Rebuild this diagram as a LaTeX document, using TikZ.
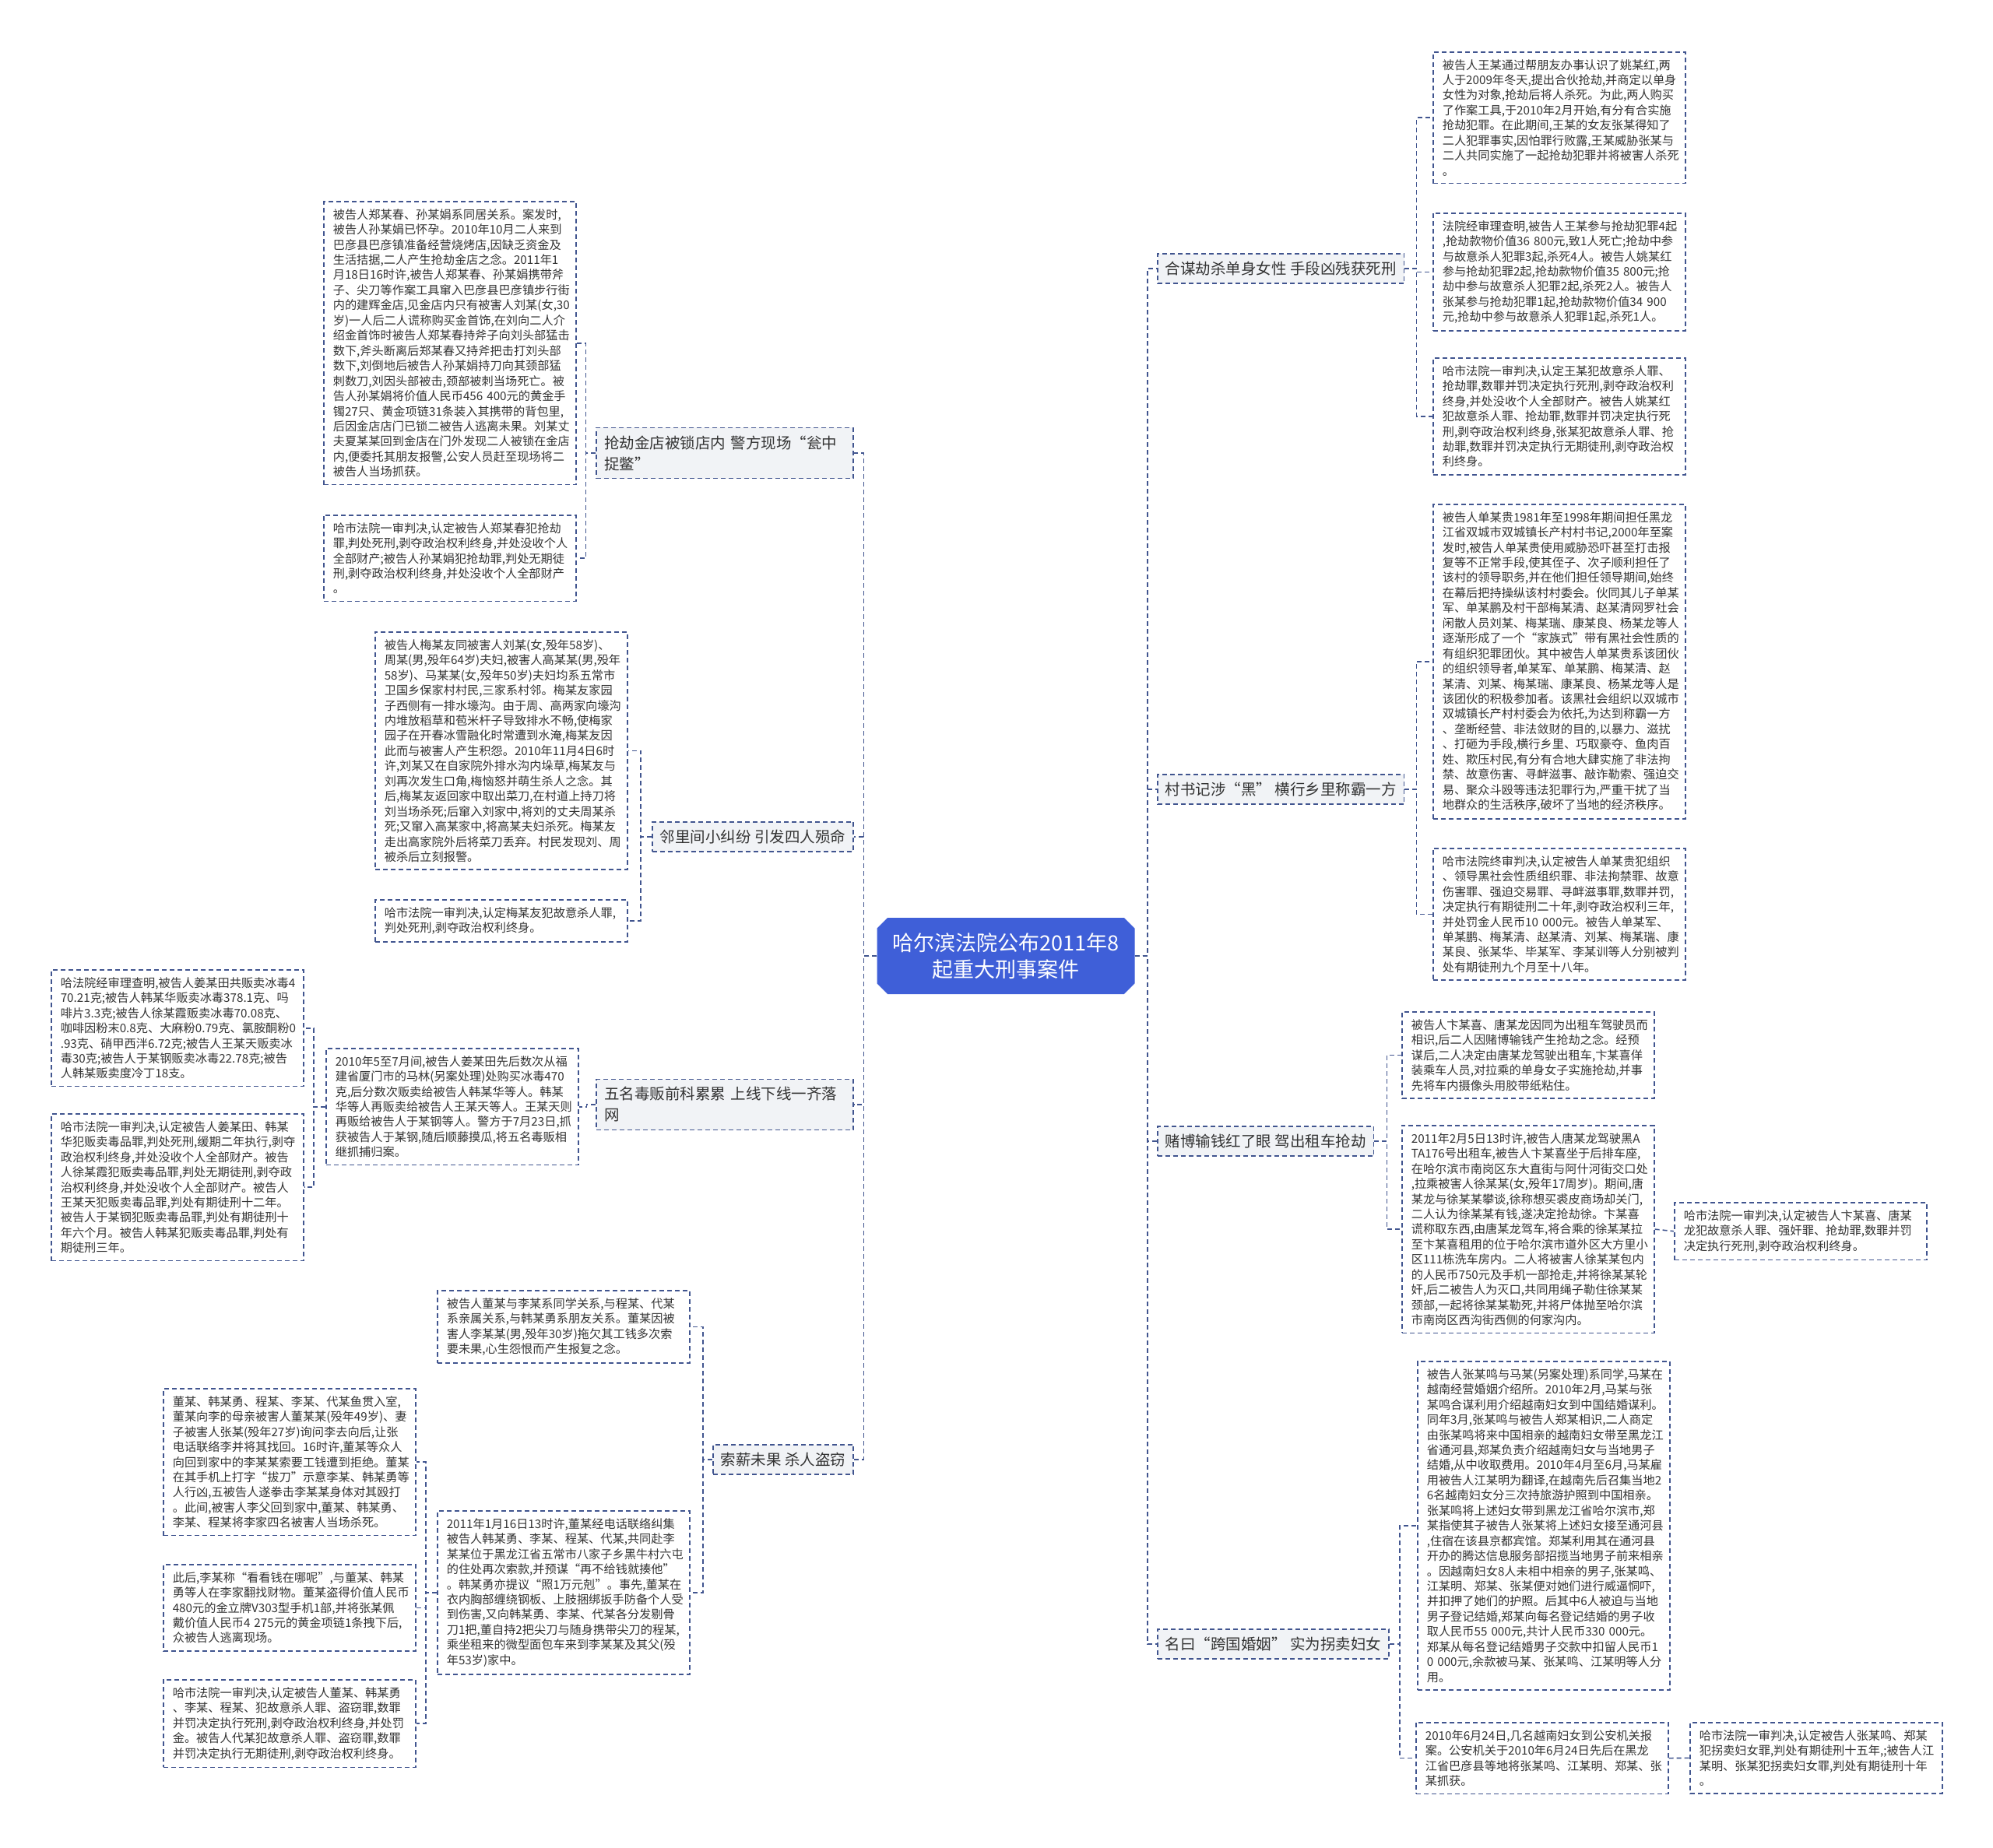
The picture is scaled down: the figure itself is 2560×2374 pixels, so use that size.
\documentclass[tikz,border=0pt]{standalone}
\usepackage{fontspec}
\setmainfont{Noto Sans CJK SC}
\usepackage{tikz}
\usetikzlibrary{shapes.misc}

\definecolor{linec}{HTML}{41558F}
\definecolor{topicc}{HTML}{3F5FD8}
\definecolor{labfill}{HTML}{F1F3F6}
\definecolor{txtc}{HTML}{333333}

\begin{document}
\begin{tikzpicture}[x=1pt,y=-1pt,
  link/.style={draw=linec,line width=1.6pt,dash pattern=on 6pt off 4pt},
  leaf/.style={link,anchor=north west,text width=300pt,inner xsep=12pt,inner ysep=9.5pt,
    align=left,text=txtc,font=\fontsize{15.2}{19.45}\selectfont},
  branch/.style={link,fill=labfill,inner xsep=10pt,inner ysep=10pt,align=left,
    text=txtc,font=\fontsize{19.5}{27}\selectfont},
  topic/.style={chamfered rectangle,chamfered rectangle xsep=10pt,fill=topicc,
    text=white,align=center,minimum width=331pt,minimum height=98pt,
    font=\fontsize{27}{34}\selectfont}]
  \fill[white] (0,0) rectangle (2560,2374);
  \useasboundingbox (0,0) rectangle (2560,2374);

  \node[topic] (ctr) at (1292,1228) {哈尔滨法院公布2011年8\\起重大刑事案件};

  % branches, right
  \node[branch,anchor=west] (jiesha) at (1486,345) {合谋劫杀单身女性 手段凶残获死刑};
  \node[branch,anchor=west] (heishe) at (1486,1014) {村书记涉“黑” 横行乡里称霸一方};
  \node[branch,anchor=west] (dubo) at (1486,1466) {赌博输钱红了眼 驾出租车抢劫};
  \node[branch,anchor=west] (guaimai) at (1486,2112) {名曰“跨国婚姻” 实为拐卖妇女};
  % branches, left
  \node[branch,anchor=east,text width=310pt] (jindian) at (1097,582) {抢劫金店被锁店内 警方现场“瓮中\\捉鳖”};
  \node[branch,anchor=east] (linli) at (1097,1075) {邻里间小纠纷 引发四人殒命};
  \node[branch,anchor=east,text width=310pt] (dufan) at (1097,1419) {五名毒贩前科累累 上线下线一齐落\\网};
  \node[branch,anchor=east] (suoxin) at (1097,1875) {索薪未果 杀人盗窃};

  % leaves, right
  \node[leaf] (jiesha1) at (1840,66) {被告人王某通过帮朋友办事认识了姚某红,两\\
    人于2009年冬天,提出合伙抢劫,并商定以单身\\
    女性为对象,抢劫后将人杀死。为此,两人购买\\
    了作案工具,于2010年2月开始,有分有合实施\\
    抢劫犯罪。在此期间,王某的女友张某得知了\\
    二人犯罪事实,因怕罪行败露,王某威胁张某与\\
    二人共同实施了一起抢劫犯罪并将被害人杀死\\
    。};
  \node[leaf] (jiesha2) at (1840,273) {法院经审理查明,被告人王某参与抢劫犯罪4起\\
    ,抢劫款物价值36 800元,致1人死亡;抢劫中参\\
    与故意杀人犯罪3起,杀死4人。被告人姚某红\\
    参与抢劫犯罪2起,抢劫款物价值35 800元;抢\\
    劫中参与故意杀人犯罪2起,杀死2人。被告人\\
    张某参与抢劫犯罪1起,抢劫款物价值34 900\\
    元,抢劫中参与故意杀人犯罪1起,杀死1人。};
  \node[leaf] (jiesha3) at (1840,459) {哈市法院一审判决,认定王某犯故意杀人罪、\\
    抢劫罪,数罪并罚决定执行死刑,剥夺政治权利\\
    终身,并处没收个人全部财产。被告人姚某红\\
    犯故意杀人罪、抢劫罪,数罪并罚决定执行死\\
    刑,剥夺政治权利终身,张某犯故意杀人罪、抢\\
    劫罪,数罪并罚决定执行无期徒刑,剥夺政治权\\
    利终身。};
  \node[leaf] (heishe1) at (1840,647) {被告人单某贵1981年至1998年期间担任黑龙\\
    江省双城市双城镇长产村村书记,2000年至案\\
    发时,被告人单某贵使用威胁恐吓甚至打击报\\
    复等不正常手段,使其侄子、次子顺利担任了\\
    该村的领导职务,并在他们担任领导期间,始终\\
    在幕后把持操纵该村村委会。伙同其儿子单某\\
    军、单某鹏及村干部梅某清、赵某清网罗社会\\
    闲散人员刘某、梅某瑞、康某良、杨某龙等人\\
    逐渐形成了一个“家族式”带有黑社会性质的\\
    有组织犯罪团伙。其中被告人单某贵系该团伙\\
    的组织领导者,单某军、单某鹏、梅某清、赵\\
    某清、刘某、梅某瑞、康某良、杨某龙等人是\\
    该团伙的积极参加者。该黑社会组织以双城市\\
    双城镇长产村村委会为依托,为达到称霸一方\\
    、垄断经营、非法敛财的目的,以暴力、滋扰\\
    、打砸为手段,横行乡里、巧取豪夺、鱼肉百\\
    姓、欺压村民,有分有合地大肆实施了非法拘\\
    禁、故意伤害、寻衅滋事、敲诈勒索、强迫交\\
    易、聚众斗殴等违法犯罪行为,严重干扰了当\\
    地群众的生活秩序,破坏了当地的经济秩序。};
  \node[leaf] (heishe2) at (1840,1089) {哈市法院终审判决,认定被告人单某贵犯组织\\
    、领导黑社会性质组织罪、非法拘禁罪、故意\\
    伤害罪、强迫交易罪、寻衅滋事罪,数罪并罚,\\
    决定执行有期徒刑二十年,剥夺政治权利三年,\\
    并处罚金人民币10 000元。被告人单某军、\\
    单某鹏、梅某清、赵某清、刘某、梅某瑞、康\\
    某良、张某华、毕某军、李某训等人分别被判\\
    处有期徒刑九个月至十八年。};
  \node[leaf] (dubo1) at (1800,1299) {被告人卞某喜、唐某龙因同为出租车驾驶员而\\
    相识,后二人因赌博输钱产生抢劫之念。经预\\
    谋后,二人决定由唐某龙驾驶出租车,卞某喜佯\\
    装乘车人员,对拉乘的单身女子实施抢劫,并事\\
    先将车内摄像头用胶带纸粘住。};
  \node[leaf] (dubo2) at (1800,1445) {2011年2月5日13时许,被告人唐某龙驾驶黑A\\
    TA176号出租车,被告人卞某喜坐于后排车座,\\
    在哈尔滨市南岗区东大直街与阿什河街交口处\\
    ,拉乘被害人徐某某(女,殁年17周岁)。期间,唐\\
    某龙与徐某某攀谈,徐称想买裘皮商场却关门,\\
    二人认为徐某某有钱,遂决定抢劫徐。卞某喜\\
    谎称取东西,由唐某龙驾车,将合乘的徐某某拉\\
    至卞某喜租用的位于哈尔滨市道外区大方里小\\
    区111栋洗车房内。二人将被害人徐某某包内\\
    的人民币750元及手机一部抢走,并将徐某某轮\\
    奸,后二被告人为灭口,共同用绳子勒住徐某某\\
    颈部,一起将徐某某勒死,并将尸体抛至哈尔滨\\
    市南岗区西沟街西侧的何家沟内。};
  \node[leaf] (dubo3) at (2150,1544) {哈市法院一审判决,认定被告人卞某喜、唐某\\
    龙犯故意杀人罪、强奸罪、抢劫罪,数罪并罚\\
    决定执行死刑,剥夺政治权利终身。};
  \node[leaf] (guaimai1) at (1820,1748) {被告人张某鸣与马某(另案处理)系同学,马某在\\
    越南经营婚姻介绍所。2010年2月,马某与张\\
    某鸣合谋利用介绍越南妇女到中国结婚谋利。\\
    同年3月,张某鸣与被告人郑某相识,二人商定\\
    由张某鸣将来中国相亲的越南妇女带至黑龙江\\
    省通河县,郑某负责介绍越南妇女与当地男子\\
    结婚,从中收取费用。2010年4月至6月,马某雇\\
    用被告人江某明为翻译,在越南先后召集当地2\\
    6名越南妇女分三次持旅游护照到中国相亲。\\
    张某鸣将上述妇女带到黑龙江省哈尔滨市,郑\\
    某指使其子被告人张某将上述妇女接至通河县\\
    ,住宿在该县京都宾馆。郑某利用其在通河县\\
    开办的腾达信息服务部招揽当地男子前来相亲\\
    。因越南妇女8人未相中相亲的男子,张某鸣、\\
    江某明、郑某、张某便对她们进行威逼恫吓,\\
    并扣押了她们的护照。后其中6人被迫与当地\\
    男子登记结婚,郑某向每名登记结婚的男子收\\
    取人民币55 000元,共计人民币330 000元。\\
    郑某从每名登记结婚男子交款中扣留人民币1\\
    0 000元,余款被马某、张某鸣、江某明等人分\\
    用。};
  \node[leaf] (guaimai2) at (1818,2212) {2010年6月24日,几名越南妇女到公安机关报\\
    案。公安机关于2010年6月24日先后在黑龙\\
    江省巴彦县等地将张某鸣、江某明、郑某、张\\
    某抓获。};
  \node[leaf] (guaimai3) at (2170,2212) {哈市法院一审判决,认定被告人张某鸣、郑某\\
    犯拐卖妇女罪,判处有期徒刑十五年,;被告人江\\
    某明、张某犯拐卖妇女罪,判处有期徒刑十年\\
    。};

  % leaves, left
  \node[leaf] (jindian1) at (415,258) {被告人郑某春、孙某娟系同居关系。案发时,\\
    被告人孙某娟已怀孕。2010年10月二人来到\\
    巴彦县巴彦镇准备经营烧烤店,因缺乏资金及\\
    生活拮据,二人产生抢劫金店之念。2011年1\\
    月18日16时许,被告人郑某春、孙某娟携带斧\\
    子、尖刀等作案工具窜入巴彦县巴彦镇步行街\\
    内的建辉金店,见金店内只有被害人刘某(女,30\\
    岁)一人后二人谎称购买金首饰,在刘向二人介\\
    绍金首饰时被告人郑某春持斧子向刘头部猛击\\
    数下,斧头断离后郑某春又持斧把击打刘头部\\
    数下,刘倒地后被告人孙某娟持刀向其颈部猛\\
    刺数刀,刘因头部被击,颈部被刺当场死亡。被\\
    告人孙某娟将价值人民币456 400元的黄金手\\
    镯27只、黄金项链31条装入其携带的背包里,\\
    后因金店店门已锁二被告人逃离未果。刘某丈\\
    夫夏某某回到金店在门外发现二人被锁在金店\\
    内,便委托其朋友报警,公安人员赶至现场将二\\
    被告人当场抓获。};
  \node[leaf] (jindian2) at (415,661) {哈市法院一审判决,认定被告人郑某春犯抢劫\\
    罪,判处死刑,剥夺政治权利终身,并处没收个人\\
    全部财产;被告人孙某娟犯抢劫罪,判处无期徒\\
    刑,剥夺政治权利终身,并处没收个人全部财产\\
    。};
  \node[leaf] (linli1) at (481,811) {被告人梅某友同被害人刘某(女,殁年58岁)、\\
    周某(男,殁年64岁)夫妇,被害人高某某(男,殁年\\
    58岁)、马某某(女,殁年50岁)夫妇均系五常市\\
    卫国乡保家村村民,三家系村邻。梅某友家园\\
    子西侧有一排水壕沟。由于周、高两家向壕沟\\
    内堆放稻草和苞米杆子导致排水不畅,使梅家\\
    园子在开春冰雪融化时常遭到水淹,梅某友因\\
    此而与被害人产生积怨。2010年11月4日6时\\
    许,刘某又在自家院外排水沟内垛草,梅某友与\\
    刘再次发生口角,梅恼怒并萌生杀人之念。其\\
    后,梅某友返回家中取出菜刀,在村道上持刀将\\
    刘当场杀死;后窜入刘家中,将刘的丈夫周某杀\\
    死;又窜入高某家中,将高某夫妇杀死。梅某友\\
    走出高家院外后将菜刀丢弃。村民发现刘、周\\
    被杀后立刻报警。};
  \node[leaf] (linli2) at (481,1155) {哈市法院一审判决,认定梅某友犯故意杀人罪,\\
    判处死刑,剥夺政治权利终身。};
  \node[leaf] (dufan1) at (418,1346) {2010年5至7月间,被告人姜某田先后数次从福\\
    建省厦门市的马林(另案处理)处购买冰毒470\\
    克,后分数次贩卖给被告人韩某华等人。韩某\\
    华等人再贩卖给被告人王某天等人。王某天则\\
    再贩给被告人于某钢等人。警方于7月23日,抓\\
    获被告人于某钢,随后顺藤摸瓜,将五名毒贩相\\
    继抓捕归案。};
  \node[leaf] (dufan2) at (65,1245) {哈法院经审理查明,被告人姜某田共贩卖冰毒4\\
    70.21克;被告人韩某华贩卖冰毒378.1克、吗\\
    啡片3.3克;被告人徐某霞贩卖冰毒70.08克、\\
    咖啡因粉末0.8克、大麻粉0.79克、氯胺酮粉0\\
    .93克、硝甲西泮6.72克;被告人王某天贩卖冰\\
    毒30克;被告人于某钢贩卖冰毒22.78克;被告\\
    人韩某贩卖度冷丁18支。};
  \node[leaf] (dufan3) at (65,1430) {哈市法院一审判决,认定被告人姜某田、韩某\\
    华犯贩卖毒品罪,判处死刑,缓期二年执行,剥夺\\
    政治权利终身,并处没收个人全部财产。被告\\
    人徐某霞犯贩卖毒品罪,判处无期徒刑,剥夺政\\
    治权利终身,并处没收个人全部财产。被告人\\
    王某天犯贩卖毒品罪,判处有期徒刑十二年。\\
    被告人于某钢犯贩卖毒品罪,判处有期徒刑十\\
    年六个月。被告人韩某犯贩卖毒品罪,判处有\\
    期徒刑三年。};
  \node[leaf] (suoxin1) at (561,1657) {被告人董某与李某系同学关系,与程某、代某\\
    系亲属关系,与韩某勇系朋友关系。董某因被\\
    害人李某某(男,殁年30岁)拖欠其工钱多次索\\
    要未果,心生怨恨而产生报复之念。};
  \node[leaf] (suoxin2) at (561,1940) {2011年1月16日13时许,董某经电话联络纠集\\
    被告人韩某勇、李某、程某、代某,共同赴李\\
    某某位于黑龙江省五常市八家子乡黑牛村六屯\\
    的住处再次索款,并预谋“再不给钱就揍他”\\
    。韩某勇亦提议“照1万元剋”。事先,董某在\\
    衣内胸部缠绕钢板、上肢捆绑扳手防备个人受\\
    到伤害,又向韩某勇、李某、代某各分发剔骨\\
    刀1把,董自持2把尖刀与随身携带尖刀的程某,\\
    乘坐租来的微型面包车来到李某某及其父(殁\\
    年53岁)家中。};
  \node[leaf] (suoxin3) at (209,1783) {董某、韩某勇、程某、李某、代某鱼贯入室,\\
    董某向李的母亲被害人董某某(殁年49岁)、妻\\
    子被害人张某(殁年27岁)询问李去向后,让张\\
    电话联络李并将其找回。16时许,董某等众人\\
    向回到家中的李某某索要工钱遭到拒绝。董某\\
    在其手机上打字“拔刀”示意李某、韩某勇等\\
    人行凶,五被告人遂拳击李某某身体对其殴打\\
    。此间,被害人李父回到家中,董某、韩某勇、\\
    李某、程某将李家四名被害人当场杀死。};
  \node[leaf] (suoxin4) at (209,2009) {此后,李某称“看看钱在哪呢”,与董某、韩某\\
    勇等人在李家翻找财物。董某盗得价值人民币\\
    480元的金立牌V303型手机1部,并将张某佩\\
    戴价值人民币4 275元的黄金项链1条拽下后,\\
    众被告人逃离现场。};
  \node[leaf] (suoxin5) at (209,2157) {哈市法院一审判决,认定被告人董某、韩某勇\\
    、李某、程某、犯故意杀人罪、盗窃罪,数罪\\
    并罚决定执行死刑,剥夺政治权利终身,并处罚\\
    金。被告人代某犯故意杀人罪、盗窃罪,数罪\\
    并罚决定执行无期徒刑,剥夺政治权利终身。};

  % connectors
  \draw[link] (ctr.east) -- ++(16,0) |- (jiesha.west);
  \draw[link] (ctr.east) -- ++(16,0) |- (heishe.west);
  \draw[link] (ctr.east) -- ++(16,0) |- (dubo.west);
  \draw[link] (ctr.east) -- ++(16,0) |- (guaimai.west);
  \draw[link] (ctr.west) -- ++(-17,0) |- (jindian.east);
  \draw[link] (ctr.west) -- ++(-17,0) |- (linli.east);
  \draw[link] (ctr.west) -- ++(-17,0) |- (dufan.east);
  \draw[link] (ctr.west) -- ++(-17,0) |- (suoxin.east);

  \draw[link] (jiesha.east) -- ++(15,0) |- (jiesha1.west);
  \draw[link] (jiesha.east) -- ++(15,0) |- (jiesha2.west);
  \draw[link] (jiesha.east) -- ++(15,0) |- (jiesha3.west);
  \draw[link] (heishe.east) -- ++(15,0) |- (heishe1.west);
  \draw[link] (heishe.east) -- ++(15,0) |- (heishe2.west);
  \draw[link] (dubo.east) -- ++(16,0) |- (dubo1.west);
  \draw[link] (dubo.east) -- ++(16,0) |- (dubo2.west);
  \draw[link] (dubo2.east) -- (dubo3.west);
  \draw[link] (guaimai.east) -- ++(13,0) |- (guaimai1.west);
  \draw[link] (guaimai.east) -- ++(13,0) |- (guaimai2.west);
  \draw[link] (guaimai2.east) -- (guaimai3.west);

  \draw[link] (jindian.west) -- ++(-13,0) |- (jindian1.east);
  \draw[link] (jindian.west) -- ++(-13,0) |- (jindian2.east);
  \draw[link] (linli.west) -- ++(-14,0) |- (linli1.east);
  \draw[link] (linli.west) -- ++(-14,0) |- (linli2.east);
  \draw[link] (dufan.west) -- ++(-12,0) |- (dufan1.east);
  \draw[link] (dufan1.west) -- ++(-15,0) |- (dufan2.east);
  \draw[link] (dufan1.west) -- ++(-15,0) |- (dufan3.east);
  \draw[link] (suoxin.west) -- ++(-12,0) |- (suoxin1.east);
  \draw[link] (suoxin.west) -- ++(-12,0) |- (suoxin2.east);
  \draw[link] (suoxin2.west) -- ++(-14,0) |- (suoxin3.east);
  \draw[link] (suoxin2.west) -- ++(-14,0) |- (suoxin4.east);
  \draw[link] (suoxin2.west) -- ++(-14,0) |- (suoxin5.east);
\end{tikzpicture}
\end{document}
